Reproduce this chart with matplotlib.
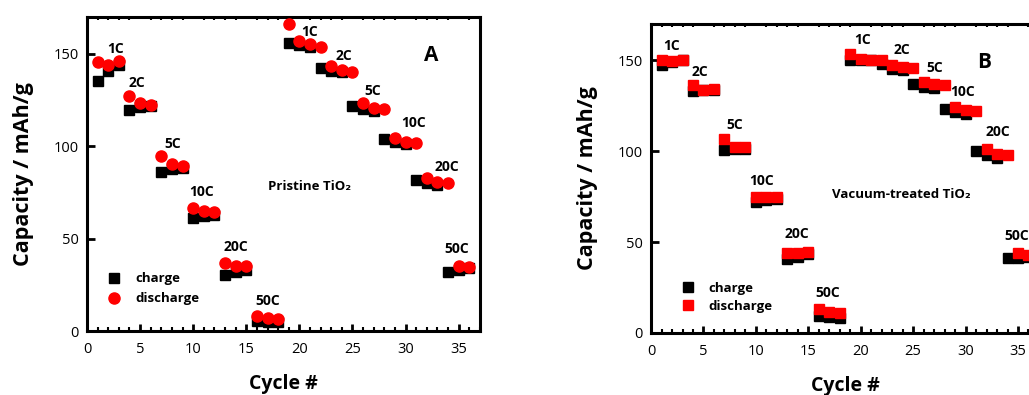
import matplotlib
matplotlib.use("Agg")
import matplotlib.pyplot as plt
from matplotlib.ticker import MultipleLocator

plt.rcParams['font.family'] = ['Open Sans', 'DejaVu Sans']

# ---------------- data ----------------
cycles = list(range(1, 37))

charge_A = [135.5, 141, 144, 119.7, 121.5, 122, 86, 87.5, 88, 61.2, 62.5, 63,
            30.4, 31.9, 32.8, 5.4, 5.1, 4.7, 155.8, 154.9, 153.6, 142.4, 141, 140.4,
            121.9, 120.1, 119.2, 103.8, 102.3, 101, 81.7, 80.3, 79, 31.7, 33.2, 34]
discharge_A = [145.5, 144, 146, 127.3, 123.5, 122.6, 94.7, 90.6, 89.3, 66.8, 64.7, 64.3,
               36.6, 35, 35.1, 8, 7.1, 6.3, 166, 156.9, 155.3, 154, 143.3, 141.3,
               140.4, 123.2, 120.6, 120.1, 104.7, 102.5, 102, 83, 80.6, 79.9, 35, 34.4]

charge_B = [147.3, 149, 150, 133, 133.5, 134, 100.5, 101, 101.5, 72.2, 73.3, 74,
            40.8, 42, 43.5, 9.5, 8.6, 8.1, 150, 150, 150, 148.2, 145.4, 144.9,
            136.8, 135.3, 134.8, 123.4, 121.6, 120.3, 100.2, 97.8, 96.5, 41, 41, 42]
discharge_B = [150.5, 149.6, 150.4, 136.3, 133.9, 134.4, 106.6, 102.2, 102.2, 74.9, 74.9, 74.9,
               43.8, 43.8, 44.7, 13.2, 11.7, 10.8, 153.7, 151, 150.4, 150.4, 147.3, 146.3,
               146, 138, 137.2, 136.4, 124.4, 122.5, 122, 101.5, 98.7, 98.2, 44.1, 42.9]

rate_labels = ["1C", "2C", "5C", "10C", "20C", "50C", "1C", "2C", "5C", "10C", "20C", "50C"]
rate_pos_A = [(2.7, 152.7), (4.7, 134.2), (8.1, 101), (10.75, 75), (14.06, 45.7), (17.0, 16.3),
              (21.0, 162), (24.2, 149), (26.9, 129.9), (30.75, 112.5), (33.9, 89), (34.8, 44.6)]
rate_pos_B = [(2.0, 157.7), (4.7, 143.4), (8.0, 114.3), (10.5, 83.5), (13.9, 54.4), (16.8, 22),
              (20.2, 161.5), (23.9, 156), (27.1, 146), (29.7, 132.4), (33.1, 110.4), (34.9, 53.3)]

xticks = [0, 5, 10, 15, 20, 25, 30, 35]
yticks = [0, 50, 100, 150]

# ---------------- figure ----------------
fig = plt.figure(figsize=(10.29, 3.95), dpi=100)
axA = fig.add_axes([0.0845, 0.162, 0.3819, 0.795])
axB = fig.add_axes([0.6327, 0.157, 0.377, 0.782])


def style(ax):
    ax.set_xlim(0, 37)
    ax.set_ylim(0, 170)
    ax.set_xticks(xticks)
    ax.set_yticks(yticks)
    ax.xaxis.set_minor_locator(MultipleLocator(1))
    for s in ax.spines.values():
        s.set_linewidth(2.2)
    ax.tick_params(axis='x', which='major', direction='in', length=5, width=2,
                   labelsize=10.5, pad=8, top=False)
    ax.tick_params(axis='x', which='minor', direction='in', length=3, width=1.5,
                   top=True, bottom=True)
    ax.tick_params(axis='y', which='major', direction='in', length=6, width=2,
                   labelsize=10.5, pad=6, right=False)
    ax.set_xlabel("Cycle #", fontsize=14, fontweight='bold', labelpad=12)
    ax.set_ylabel("Capacity / mAh/g", fontsize=15.5, fontweight='bold', labelpad=14)


style(axA)
style(axB)
for ax in (axA, axB):
    for t in ax.xaxis.get_minor_ticks():
        t.tick1line.set_color('black')
        t.tick2line.set_color('#c8c8c8')
        t.tick2line.set_markersize(2)

# Panel A
axA.plot(cycles, charge_A, 's', color='black', markersize=6.5, label='charge', zorder=3)
axA.plot(cycles, discharge_A, 'o', color='#ff0000', markersize=8, label='discharge', zorder=4)
for lab, (x, y) in zip(rate_labels, rate_pos_A):
    axA.text(x, y, lab, fontsize=10, fontweight='bold', ha='center', va='center')
axA.text(32.4, 149, "A", fontsize=15, fontweight='bold', ha='center', va='center')
axA.text(21.0, 78.3, "Pristine TiO\u2082", fontsize=9.5, fontweight='bold', ha='center', va='center')
axA.legend(loc='upper left', bbox_to_anchor=(0.025, 0.225), frameon=False, handlelength=0.8,
           handletextpad=1.2, labelspacing=0.55, prop={'weight': 'bold', 'size': 9.5})

# Panel B
axB.plot(cycles, charge_B, 's', color='black', markersize=6.5, label='charge', zorder=3)
axB.plot(cycles, discharge_B, 's', color='#ff0000', markersize=7, label='discharge', zorder=4)
for lab, (x, y) in zip(rate_labels, rate_pos_B):
    axB.text(x, y, lab, fontsize=10, fontweight='bold', ha='center', va='center')
axB.text(31.8, 148.9, "B", fontsize=15, fontweight='bold', ha='center', va='center')
axB.text(23.9, 76.4, "Vacuum-treated TiO\u2082", fontsize=9.5, fontweight='bold', ha='center', va='center')
axB.legend(loc='upper left', bbox_to_anchor=(0.05, 0.205), frameon=False, handlelength=0.8,
           handletextpad=1.2, labelspacing=0.4, prop={'weight': 'bold', 'size': 9.5})

fig.savefig("out.png", dpi=100)
